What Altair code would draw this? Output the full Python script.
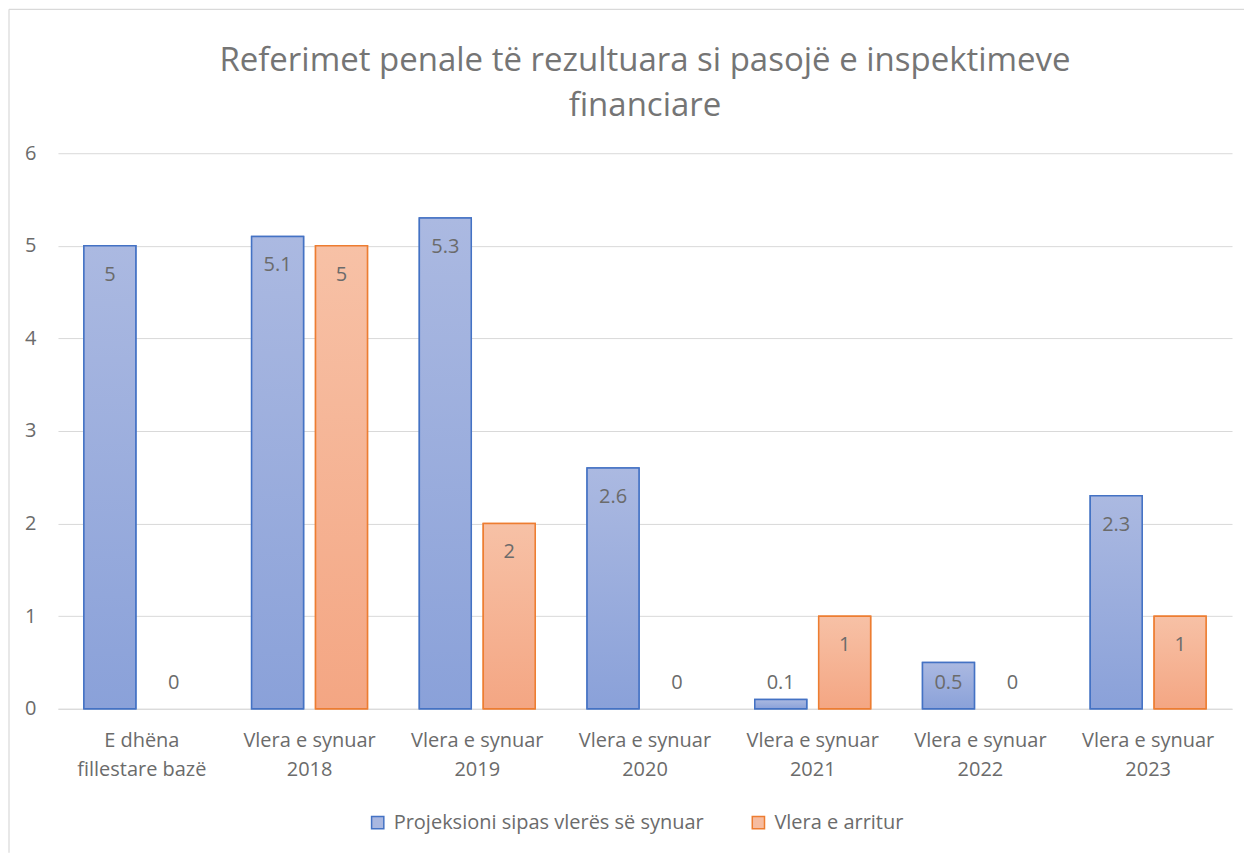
import altair as alt
import pandas as pd

categories = [
    "E dhëna\nfillestare bazë",
    "Vlera e synuar\n2018",
    "Vlera e synuar\n2019",
    "Vlera e synuar\n2020",
    "Vlera e synuar\n2021",
    "Vlera e synuar\n2022",
    "Vlera e synuar\n2023",
]
series_names = ["Projeksioni sipas vlerës së synuar", "Vlera e arritur"]
projected = [5, 5.1, 5.3, 2.6, 0.1, 0.5, 2.3]
achieved = [0, 5, 2, 0, 1, 0, 1]
y_ticks = [0, 1, 2, 3, 4, 5, 6]
title_lines = ["Referimet penale të rezultuara si pasojë e inspektimeve", "financiare"]

rows = []
for c, p, a in zip(categories, projected, achieved):
    rows.append({"cat": c, "series": series_names[0], "value": p})
    rows.append({"cat": c, "series": series_names[1], "value": a})
df = pd.DataFrame(rows)

FONT = "Open Sans"
TXT = "#6b6b6b"
GRID = "#d9d9d9"
BLUE_DARK, ORANGE_DARK = "#4472c4", "#ed7d31"
BLUE_LIGHT, ORANGE_LIGHT = "#a9b7e0", "#f6bca0"
FS = 20

x_enc = alt.X(
    "cat:N", sort=categories, title=None,
    scale=alt.Scale(paddingInner=0, paddingOuter=0),
    axis=alt.Axis(
        labelExpr="split(datum.label, '\\n')", labelAngle=0, ticks=False,
        domainColor=GRID, domainWidth=1, labelPadding=22, labelLineHeight=29,
        labelFontSize=FS, labelColor=TXT, labelFont=FONT,
    ),
)
xoff_enc = alt.XOffset(
    "series:N", sort=series_names,
    scale=alt.Scale(domain=series_names, paddingInner=0.1875, paddingOuter=0.406),
)
y_scale = alt.Scale(domain=[0, 6], nice=False)
y_axis = alt.Axis(
    values=y_ticks, grid=True, gridColor=GRID, gridWidth=1, domain=False,
    ticks=False, labelPadding=22, labelFontSize=FS, labelColor=TXT, labelFont=FONT,
)
y_enc = alt.Y("value:Q", scale=y_scale, title=None, axis=y_axis)

legend = alt.Legend(
    title=None, orient="none", legendX=310, legendY=660, direction="horizontal",
    symbolType="square", symbolSize=150, symbolStrokeWidth=1.5, labelLimit=0,
    labelFontSize=FS, labelFont=FONT, labelColor=TXT, columnPadding=44, labelOffset=6,
)

base = alt.Chart(df).transform_filter("datum.value > 0")

legend_bars = base.mark_bar(strokeWidth=1.5).encode(
    x=x_enc, xOffset=xoff_enc, y=y_enc,
    fill=alt.Fill("series:N", sort=series_names,
                  scale=alt.Scale(domain=series_names, range=[BLUE_LIGHT, ORANGE_LIGHT]),
                  legend=legend),
    stroke=alt.Stroke("series:N", sort=series_names,
                      scale=alt.Scale(domain=series_names, range=[BLUE_DARK, ORANGE_DARK]),
                      legend=legend),
)


def grad(top, bottom):
    return alt.Gradient(
        gradient="linear",
        stops=[alt.GradientStop(color=top, offset=0), alt.GradientStop(color=bottom, offset=1)],
        x1=0, x2=0, y1=0, y2=1,
    )


blue_bars = base.transform_filter(alt.datum.series == series_names[0]).mark_bar(
    fill=grad("#abb9e1", "#8aa1d9"), stroke=BLUE_DARK, strokeWidth=1.5
).encode(x=x_enc, xOffset=xoff_enc, y=y_enc)

orange_bars = base.transform_filter(alt.datum.series == series_names[1]).mark_bar(
    fill=grad("#f7c1a6", "#f4a683"), stroke=ORANGE_DARK, strokeWidth=1.5
).encode(x=x_enc, xOffset=xoff_enc, y=y_enc)

labels = alt.Chart(df).transform_calculate(
    lp="max(datum.value - 0.31, 0.28)"
).mark_text(
    font=FONT, fontSize=FS, color=TXT, baseline="middle", align="center"
).encode(
    x=x_enc, xOffset=xoff_enc,
    y=alt.Y("lp:Q", scale=y_scale, title=None, axis=y_axis),
    text=alt.Text("value:Q", format="~g"),
)

# light grey chart-area border (Excel style): top and left edges
frame_df = pd.DataFrame({"k": [0]})
frame_top = alt.Chart(frame_df).mark_rule(color=GRID, strokeWidth=1.2).encode(
    x=alt.value(-49), x2=alt.value(1187), y=alt.value(-144)
)
frame_left = alt.Chart(frame_df).mark_rule(color=GRID, strokeWidth=1.2).encode(
    x=alt.value(-49), y=alt.value(-144), y2=alt.value(700)
)

chart = alt.layer(frame_top, frame_left, legend_bars, blue_bars, orange_bars, labels).properties(
    width=1175, height=556,
    padding={"left": 0, "top": 0, "right": 0, "bottom": 0},
    title=alt.TitleParams(
        title_lines, fontSize=33, font=FONT, fontWeight="normal", color="#757575",
        lineHeight=45, offset=-114, anchor="middle", frame="group",
    ),
).configure_view(stroke=None)

chart.save("out.html", embed_options={"renderer": "svg", "actions": False})
